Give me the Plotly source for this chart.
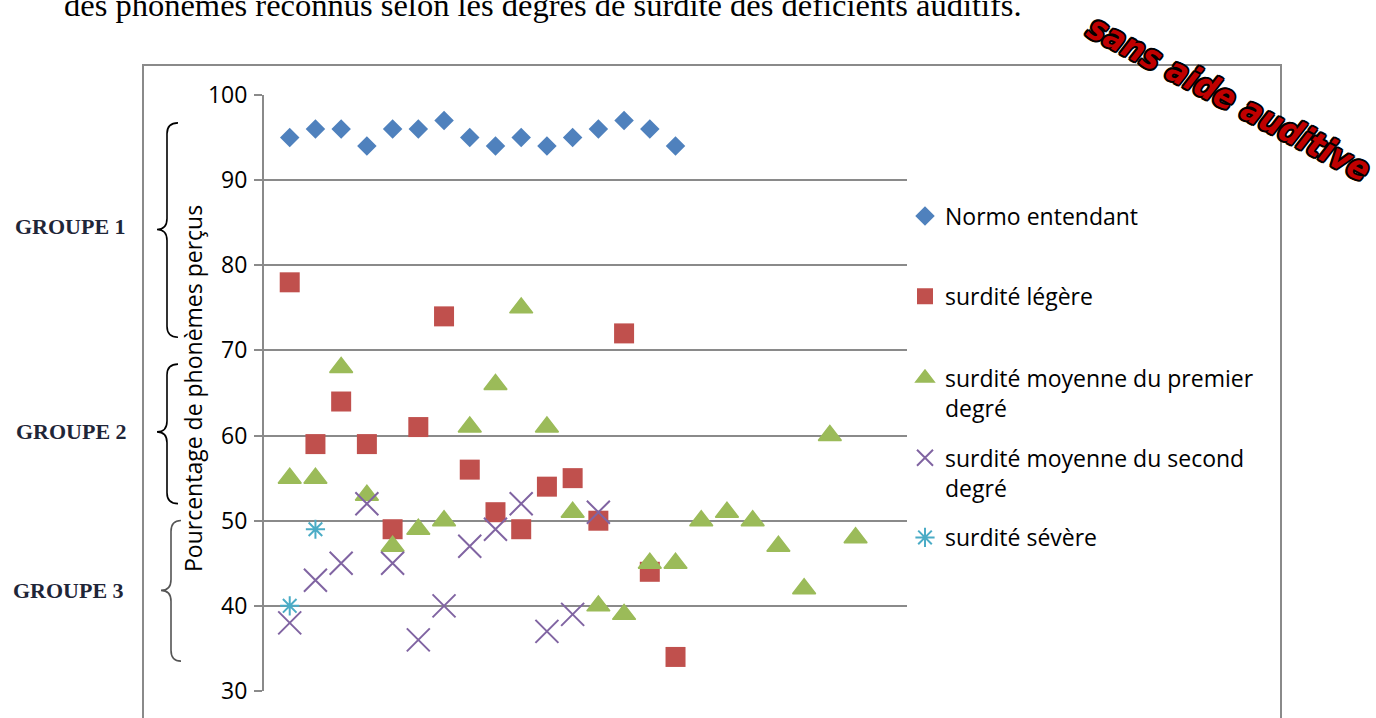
import plotly.graph_objects as go

# ---------------- data ----------------
normo = [95, 96, 96, 94, 96, 96, 97, 95, 94, 95, 94, 95, 96, 97, 96, 94]
legere = [78, 59, 64, 59, 49, 61, 74, 56, 51, 49, 54, 55, 50, 72, 44, 34]
premier = [55, 55, 68, 53, 47, 49, 50, 61, 66, 75, 61, 51, 40, 39, 45, 45,
           50, 51, 50, 47, 42, 60, 48]
second = [38, 43, 45, 52, 45, 36, 40, 47, 49, 52, 37, 39, 51]
severe = [40, 49]

series_names = ["Normo entendant", "surdité légère",
                "surdité moyenne du premier<br>degré",
                "surdité moyenne du second<br>degré", "surdité sévère"]
y_ticks = [30, 40, 50, 60, 70, 80, 90, 100]
y_title = "Pourcentage de phonèmes perçus"
top_text = "des phonèmes reconnus selon les degrés de surdité des déficients auditifs."
groups = ["GROUPE 1", "GROUPE 2", "GROUPE 3"]
stamp = "sans aide auditive"

# ---------------- layout geometry ----------------
W, H = 1376, 718
PL, PR, PT, PB = 264, 907, 95, 693


def px(x):
    return (x - PL) / (PR - PL)


def py(y):
    return (PB - y) / (PB - PT)


FONT = "Open Sans"
GRID = "#8a8a8a"

fig = go.Figure()

styles = [
    dict(symbol="diamond", size=15, color="#4F81BD"),
    dict(symbol="square", size=20, color="#C0504D"),
    dict(symbol="triangle-up", size=20, color="#9BBB59", line=dict(width=1.5, color="#9BBB59")),
    dict(symbol="x-thin-open", size=23, color="#8064A2", line=dict(width=2, color="#8064A2")),
    dict(symbol="asterisk-open", size=16, color="#4BACC6", line=dict(width=2, color="#4BACC6")),
]
datas = [normo, legere, premier, second, severe]
legend_ids = ["legend", "legend2", "legend3", "legend4", "legend5"]

for name, vals, st, lid in zip(series_names, datas, styles, legend_ids):
    fig.add_trace(go.Scatter(
        x=list(range(1, len(vals) + 1)), y=vals, mode="markers", name=name,
        marker=st, legend=lid, hoverinfo="x+y+name"))

# legends placed individually (row centres in px)
row_centres = [216.5, 297, 394, 474, 539]
leg_common = dict(xanchor="left", yanchor="middle", bgcolor="rgba(0,0,0,0)",
                  font=dict(family=FONT, size=23, color="black"),
                  valign="top", itemsizing="trace", borderwidth=0)
leg_layout = {}
for lid, yc in zip(legend_ids, row_centres):
    leg_layout[lid] = dict(x=px(905), y=py(yc), **leg_common)


# braces
def brace(xe, xv, xt, top, tip, bot, r=11):
    pts = [
        ("M", [(xe, top)]),
        ("Q", [(xv, top), (xv, top + r)]),
        ("L", [(xv, tip - r)]),
        ("Q", [(xv, tip), (xt, tip)]),
        ("Q", [(xv, tip), (xv, tip + r)]),
        ("L", [(xv, bot - r)]),
        ("Q", [(xv, bot), (xe, bot)]),
    ]
    s = ""
    for cmd, coords in pts:
        s += cmd + " ".join(f"{px(a):.5f},{py(b):.5f}" for a, b in coords) + " "
    return s.strip()


shapes = [
    dict(type="rect", xref="paper", yref="paper", x0=px(143), x1=px(1281),
         y0=py(65), y1=py(780), line=dict(color=GRID, width=2), layer="below"),
    dict(type="path", xref="paper", yref="paper",
         path=brace(178, 167, 157, 123, 230, 338), line=dict(color="black", width=1.6)),
    dict(type="path", xref="paper", yref="paper",
         path=brace(178, 167, 157, 365, 433, 505), line=dict(color="black", width=1.6)),
    dict(type="path", xref="paper", yref="paper",
         path=brace(181, 171, 161, 522, 592, 663), line=dict(color="#555555", width=1.6)),
]

outline = ("-1.5px -1.5px 0 #000, 1.5px -1.5px 0 #000, -1.5px 1.5px 0 #000, "
           "1.5px 1.5px 0 #000, 0 2px 0 #000, 0 -2px 0 #000, 2px 0 0 #000, -2px 0 0 #000")

annotations = [
    dict(text=y_title, x=px(193), y=py(390), xref="paper", yref="paper",
         textangle=-90, showarrow=False, xanchor="center", yanchor="middle",
         font=dict(family=FONT, size=23, color="black")),
    dict(text=top_text, x=px(62), y=py(5), xref="paper", yref="paper",
         showarrow=False, xanchor="left", yanchor="middle",
         font=dict(family="Liberation Serif", size=32.5, color="black")),
    dict(text=stamp, x=px(1229), y=py(98), xref="paper", yref="paper",
         showarrow=False, xanchor="center", yanchor="middle", textangle=28,
         font=dict(family="DejaVu Sans Condensed, DejaVu Sans, sans-serif",
                   size=34, color="#C00000", weight="bold", style="italic",
                   shadow=outline)),
]
for g, (gx, gy) in zip(groups, [(70, 227), (72, 433), (68, 592)]):
    annotations.append(dict(text=g, x=px(gx), y=py(gy), xref="paper", yref="paper",
                            showarrow=False, xanchor="center", yanchor="middle",
                            font=dict(family="Liberation Serif", size=22,
                                      color="#1f2638", weight="bold")))

fig.update_layout(
    width=W, height=H,
    margin=dict(l=PL, r=W - PR, t=PT, b=H - PB, pad=0),
    paper_bgcolor="white", plot_bgcolor="white",
    showlegend=True,
    xaxis=dict(range=[0, 25], showgrid=False, zeroline=False, showline=False,
               showticklabels=False, ticks=""),
    yaxis=dict(range=[30, 100], tickvals=y_ticks, showgrid=True, gridcolor=GRID,
               gridwidth=2, zeroline=False, showline=True, linecolor=GRID,
               linewidth=2, ticks="outside", ticklen=8, tickcolor=GRID, tickwidth=2,
               ticklabelstandoff=2,
               tickfont=dict(family=FONT, size=23, color="black")),
    shapes=shapes,
    annotations=annotations,
    **leg_layout,
)

fig.write_html("out.html", config={"displayModeBar": False},
               post_script="document.body.style.margin='0';document.body.style.overflow='hidden';")
